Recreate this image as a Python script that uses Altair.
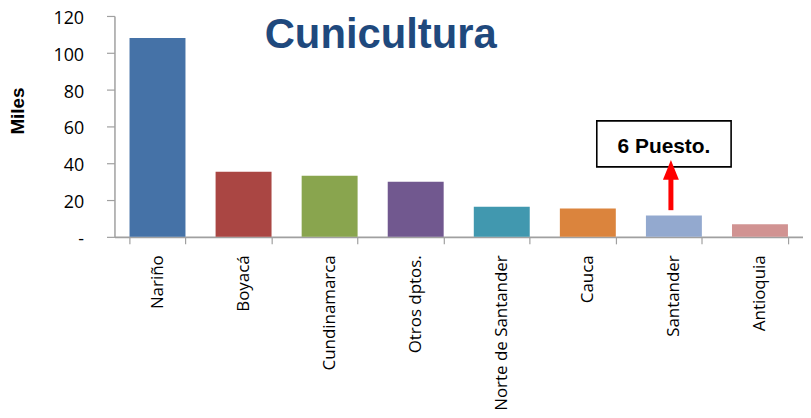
import altair as alt
import pandas as pd

categories = ["Nariño", "Boyacá", "Cundinamarca", "Otros dptos.",
              "Norte de Santander", "Cauca", "Santander", "Antioquia"]
values = [108.0, 35.4, 33.2, 30.0, 16.4, 15.4, 11.6, 6.8]
colors = ["#4572A7", "#AA4643", "#89A54E", "#71588F",
          "#4198AF", "#DB843D", "#93A9CF", "#D19392"]
y_ticks = [0, 20, 40, 60, 80, 100, 120]
title_text = "Cunicultura"
y_title = "Miles"
note_text = "6 Puesto."
note_category = "Santander"

df = pd.DataFrame({"depto": categories, "miles": values})
note_df = pd.DataFrame({"depto": [note_category], "label": [note_text]})
title_df = pd.DataFrame({"t": [title_text]})

x_scale = alt.Scale(domain=categories, paddingInner=0.35, paddingOuter=0.175)
y_scale = alt.Scale(domain=[0, 120], nice=False, zero=True)

x_axis = alt.Axis(
    title=None, labelAngle=-90, labelFont="Open Sans", labelFontSize=17,
    labelColor="#000000", labelPadding=11, tickSize=7, tickColor="#A0A0A0",
    tickWidth=1.2, domainColor="#A0A0A0", domainWidth=1.8, tickBand="extent",
    grid=False, labelOverlap=False,
)
y_axis = alt.Axis(
    title=y_title, values=y_ticks, grid=False, labelOverlap=False,
    labelExpr="datum.value == 0 ? '-\u00a0\u00a0' : datum.label",
    labelFont="Open Sans", labelFontSize=18, labelColor="#000000",
    labelPadding=23, labelOffset=2.5, tickSize=8, tickColor="#A0A0A0", tickWidth=1.2,
    domainColor="#A0A0A0", domainWidth=1.5,
    titleFont="Liberation Sans", titleFontSize=19, titleFontWeight="bold",
    titleColor="#000000", titleAngle=-90, titleAlign="center",
    titleBaseline="middle", titleX=-97, titleY=95,
)


def yd(v):
    return alt.Y(datum=v, type="quantitative", scale=y_scale, axis=y_axis)


bars = alt.Chart(df).mark_bar().encode(
    x=alt.X("depto:N", scale=x_scale, axis=x_axis, sort=categories),
    y=alt.Y("miles:Q", scale=y_scale, axis=y_axis),
    color=alt.Color("depto:N", scale=alt.Scale(domain=categories, range=colors), legend=None),
)

box = alt.Chart(note_df).mark_bar(
    width=135, xOffset=-10, fill="white", stroke="black", strokeWidth=1.6
).encode(
    x=alt.X("depto:N", scale=x_scale, axis=x_axis),
    y=yd(63.0),
    y2=alt.datum(38.0),
)

note = alt.Chart(note_df).mark_text(
    font="Liberation Sans", fontSize=21, fontWeight="bold", color="black",
    xOffset=-10, baseline="alphabetic", align="center",
).encode(
    x=alt.X("depto:N", scale=x_scale, axis=x_axis),
    y=yd(45.5),
    text="label:N",
)

shaft = alt.Chart(note_df).mark_rule(color="#FF0000", strokeWidth=5, xOffset=-3).encode(
    x=alt.X("depto:N", scale=x_scale, axis=x_axis),
    y=yd(14.5),
    y2=alt.datum(32.0),
)

head = alt.Chart(note_df).mark_point(
    shape="M0,-1L0.8,1L-0.8,1Z", size=400, filled=True, fill="#FF0000",
    color="#FF0000", opacity=1, strokeWidth=0, xOffset=-3,
).encode(
    x=alt.X("depto:N", scale=x_scale, axis=x_axis),
    y=yd(36.4),
)

title = alt.Chart(title_df).mark_text(
    font="Liberation Sans", fontSize=42, fontWeight="bold", color="#1F497D",
    align="left", baseline="alphabetic",
).encode(
    x=alt.value(151),
    y=alt.value(32),
    text="t:N",
)

chart = alt.layer(bars, box, note, shaft, head, title).properties(
    width=692, height=222,
    autosize=alt.AutoSizeParams(type="none"),
    padding={"left": 107, "top": 7, "right": 0, "bottom": 173},
).configure_view(stroke=None)

chart.save("out.html", embed_options={"renderer": "svg", "actions": False})
